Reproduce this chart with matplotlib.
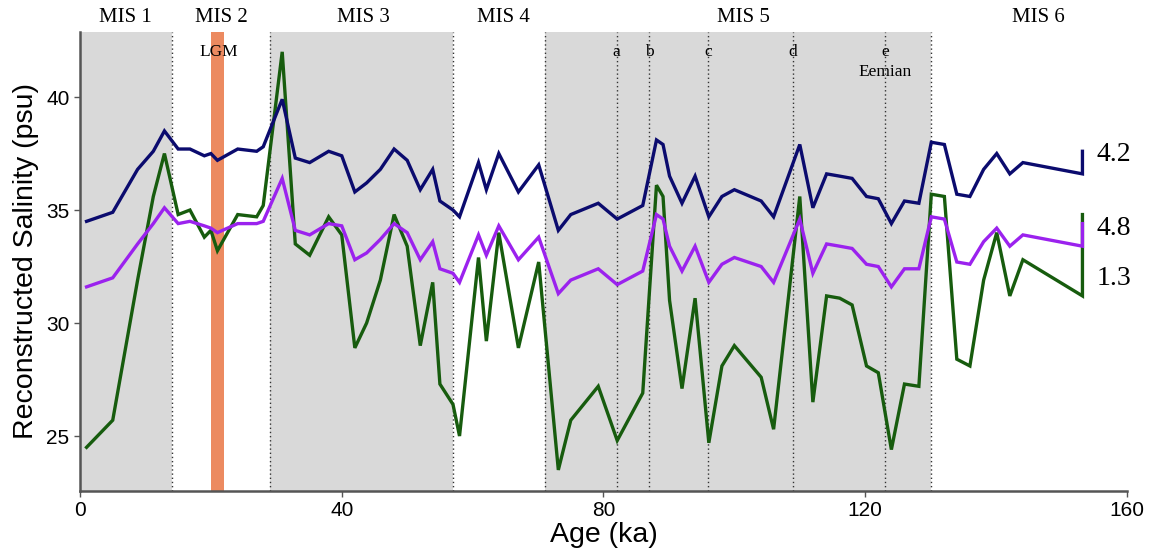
import numpy as np
import matplotlib
matplotlib.use("Agg")
import matplotlib.pyplot as plt

# --- data --------------------------------------------------------------
age = [1.0, 5.0, 8.8, 11.2, 12.9, 15.0, 16.8, 19.0, 20.0, 21.0,
       24.1, 27.0, 28.0, 30.9, 32.9, 35.1, 38.0, 40.0, 42.0, 43.8,
       45.9, 48.0, 50.0, 52.0, 53.9, 55.0, 57.0, 58.0, 60.9, 62.1,
       64.0, 67.0, 70.1, 73.1, 75.0, 79.2, 82.1, 86.0, 88.1, 89.1,
       90.1, 92.0, 94.0, 96.1, 98.1, 100.0, 104.1, 106.0, 110.0, 112.0,
       114.1, 116.1, 118.0, 120.2, 122.0, 124.0, 126.0, 128.2, 130.1, 132.1,
       134.0, 136.0, 138.1, 140.1, 142.1, 144.1, 153.2, 153.2]

sal_42 = [34.5, 34.9, 36.8, 37.6, 38.5, 37.7, 37.7, 37.4, 37.5, 37.2,
          37.7, 37.6, 37.8, 39.9, 37.3, 37.1, 37.6, 37.4, 35.8, 36.2,
          36.8, 37.7, 37.2, 35.9, 36.8, 35.4, 35.0, 34.7, 37.1, 35.9,
          37.5, 35.8, 37.0, 34.1, 34.8, 35.3, 34.6, 35.2, 38.1, 37.9,
          36.5, 35.3, 36.5, 34.7, 35.6, 35.9, 35.4, 34.7, 37.9, 35.1,
          36.6, 36.5, 36.4, 35.6, 35.5, 34.4, 35.4, 35.3, 38.0, 37.9,
          35.7, 35.6, 36.8, 37.5, 36.6, 37.1, 36.6, 37.6]

sal_48 = [31.6, 32.0, 33.5, 34.4, 35.1, 34.4, 34.5, 34.3, 34.2, 34.0,
          34.4, 34.4, 34.5, 36.4, 34.1, 33.9, 34.4, 34.3, 32.8, 33.1,
          33.7, 34.4, 34.0, 32.8, 33.6, 32.4, 32.2, 31.8, 33.9, 33.0,
          34.3, 32.8, 33.8, 31.3, 31.9, 32.4, 31.7, 32.3, 34.8, 34.6,
          33.4, 32.3, 33.4, 31.8, 32.6, 32.9, 32.5, 31.8, 34.6, 32.2,
          33.5, 33.4, 33.3, 32.6, 32.5, 31.6, 32.4, 32.4, 34.7, 34.6,
          32.7, 32.6, 33.6, 34.2, 33.4, 33.9, 33.4, 34.4]

sal_13 = [24.5, 25.7, 31.9, 35.6, 37.5, 34.8, 35.0, 33.8, 34.1, 33.2,
          34.8, 34.7, 35.2, 42.0, 33.5, 33.0, 34.7, 33.9, 28.9, 30.0,
          31.9, 34.8, 33.4, 29.0, 31.8, 27.3, 26.4, 25.0, 32.9, 29.2,
          34.0, 28.9, 32.7, 23.5, 25.7, 27.2, 24.8, 26.9, 36.1, 35.6,
          31.0, 27.1, 31.1, 24.7, 28.1, 29.0, 27.6, 25.3, 35.6, 26.5,
          31.2, 31.1, 30.8, 28.1, 27.8, 24.4, 27.3, 27.2, 35.7, 35.6,
          28.4, 28.1, 31.9, 34.0, 31.2, 32.8, 31.2, 34.8]

series_names = ["4.2", "4.8", "1.3"]
series_label_y = [37.45, 34.2, 31.95]

# marine isotope stages (shaded ones) and their labels
mis_shaded = [(0, 14), (29, 57), (71, 130)]
mis_bounds = [14, 29, 57, 71, 130]
mis_labels = ["MIS 1", "MIS 2", "MIS 3", "MIS 4", "MIS 5", "MIS 6"]
mis_label_x = [6.9, 21.6, 43.3, 64.7, 101.4, 146.4]

substage_names = ["a", "b", "c", "d", "e"]
substage_x = [82, 87, 96, 109, 123]

lgm_span = (20, 22)

# --- plot ---------------------------------------------------------------
colors = ["#0b0b6e", "#9b22ee", "#175c0e"]

fig = plt.figure(figsize=(11.53, 5.51), dpi=100)
ax = fig.add_axes([0.0694, 0.109, 0.908, 0.833])

for x0, x1 in mis_shaded:
    ax.axvspan(x0, x1, color="#d9d9d9", lw=0, zorder=0)
ax.axvspan(*lgm_span, color="#ec8a60", lw=0, zorder=1)

for xb in mis_bounds + substage_x:
    ax.axvline(xb, color="#333333", lw=1.0, ls=(0, (1, 2)), zorder=2)

for vals, c in zip([sal_42, sal_48, sal_13][::-1], colors[::-1]):
    ax.plot(age, vals, color=c, lw=2.4, zorder=3, solid_joinstyle="miter")

ax.set_xlim(0, 160)
ax.set_ylim(22.57, 42.88)
ax.set_xticks([0, 40, 80, 120, 160])
ax.set_yticks([25, 30, 35, 40])

serif = ["Liberation Serif", "DejaVu Serif"]
sans = ["Liberation Sans", "DejaVu Sans"]

for name, ly in zip(series_names, series_label_y):
    ax.text(155.4, ly, name, fontsize=20, family=serif, va="center",
            ha="left", clip_on=False)

for lab, lx in zip(mis_labels, mis_label_x):
    ax.text(lx, 43.5, lab, fontsize=15, family=serif, ha="center",
            va="center", clip_on=False)

for lab, lx in zip(substage_names, substage_x):
    ax.text(lx, 42.0, lab, fontsize=12.5, family=serif, ha="center",
            va="center", zorder=4)
ax.text(21.2, 42.0, "LGM", fontsize=12.5, family=serif, ha="center",
        va="center", zorder=4)
ax.text(123, 41.1, "Eemian", fontsize=12.5, family=serif, ha="center",
        va="center", zorder=4)

ax.set_xlabel("Age (ka)", fontsize=20.5, family=sans, labelpad=1)
ax.set_ylabel("Reconstructed Salinity (psu)", fontsize=20.5, family=sans,
              labelpad=5)

for s in ["top", "right"]:
    ax.spines[s].set_visible(False)
for s in ["left", "bottom"]:
    ax.spines[s].set_color("#555555")
    ax.spines[s].set_linewidth(1.8)
ax.tick_params(axis="both", direction="out", length=4, width=1,
               color="#555555", labelsize=15)
for lab in ax.get_xticklabels() + ax.get_yticklabels():
    lab.set_family(sans)

fig.savefig("out.png", dpi=100)
